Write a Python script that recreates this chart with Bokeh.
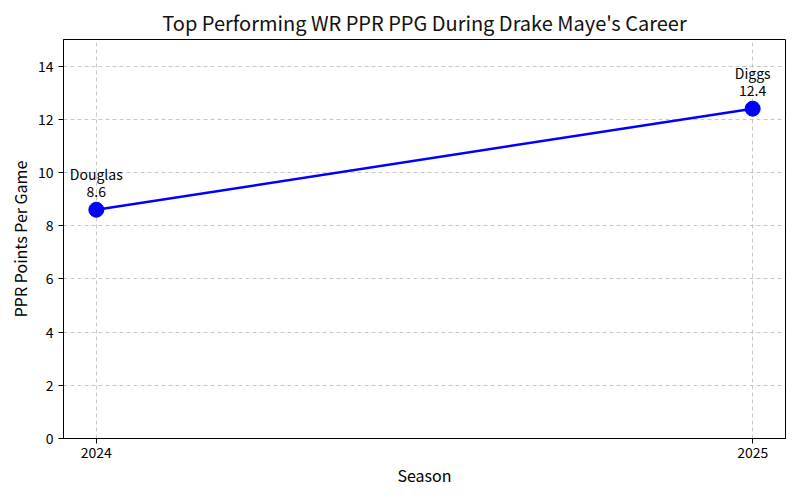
from bokeh.plotting import figure
from bokeh.models import ColumnDataSource, FixedTicker, Range1d
from bokeh.core.properties import value
from bokeh.embed import file_html
from bokeh.resources import INLINE

seasons = [2024, 2025]
ppg = [8.6, 12.4]
players = ["Douglas", "Diggs"]
ppg_labels = ["8.6", "12.4"]
y_ticks = [0, 2, 4, 6, 8, 10, 12, 14]

FONT = "Noto Sans CJK JP"

src = ColumnDataSource(dict(x=seasons, y=ppg, name=players, val=ppg_labels))

p = figure(
    frame_width=722, frame_height=399,
    x_range=Range1d(2023.95, 2025.05), y_range=Range1d(0, 15),
    output_backend="svg", toolbar_location=None,
    title="Top Performing WR PPR PPG During Drake Maye's Career",
    min_border_left=63, min_border_right=7, min_border_top=39, min_border_bottom=54,
)
p.background_fill_color = "white"
p.border_fill_color = "white"
p.outline_line_color = "black"
p.outline_line_width = 1

p.title.text_font = FONT
p.title.text_font_size = "20px"
p.title.text_font_style = "normal"
p.title.align = "center"
p.title.text_color = "#111111"
p.title.standoff = 6

p.line("x", "y", source=src, line_color="blue", line_width=2.5)
p.scatter("x", "y", source=src, size=15, fill_color="blue", line_color="blue")

p.text("x", "y", text="val", source=src, text_align="center", text_baseline="bottom",
       y_offset=-13, text_font=value(FONT), text_font_size="14px", text_color="black")
p.text("x", "y", text="name", source=src, text_align="center", text_baseline="bottom",
       y_offset=-26, text_font=value(FONT), text_font_size="14px", text_color="black")

p.xaxis.ticker = FixedTicker(ticks=seasons)
p.yaxis.ticker = FixedTicker(ticks=y_ticks)
p.xaxis.axis_label = "Season"
p.yaxis.axis_label = "PPR Points Per Game"
for ax in (p.xaxis, p.yaxis):
    ax.axis_label_text_font = FONT
    ax.axis_label_text_font_size = "16px"
    ax.axis_label_text_font_style = "normal"
    ax.axis_label_text_color = "black"
    ax.major_label_text_font = FONT
    ax.major_label_text_font_size = "14px"
    ax.major_label_text_color = "black"
    ax.axis_line_color = "black"
    ax.major_tick_line_color = "black"
    ax.major_tick_out = 5
    ax.major_tick_in = 0
    ax.minor_tick_line_color = None
p.xaxis.axis_label_standoff = 2
p.xaxis.major_label_standoff = 3
p.yaxis.axis_label_standoff = 3

for g in (p.xgrid, p.ygrid):
    g.grid_line_color = "#b0b0b0"
    g.grid_line_alpha = 0.7
    g.grid_line_dash = "4 3"
    g.grid_line_width = 1
p.xgrid.ticker = FixedTicker(ticks=seasons)
p.ygrid.ticker = FixedTicker(ticks=y_ticks)

open("out.html", "w").write(file_html(p, INLINE))
